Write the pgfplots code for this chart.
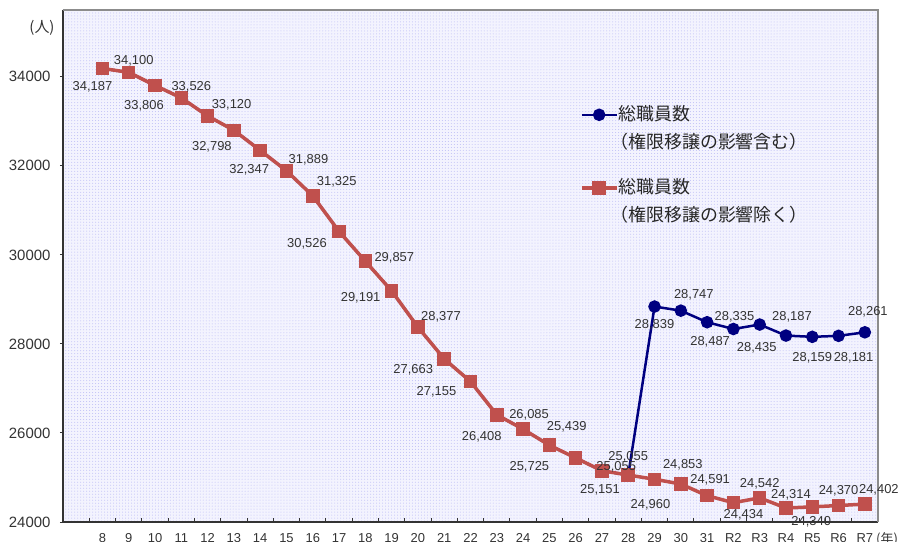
\documentclass[border=0pt]{standalone}
\usepackage{pgfplots}
\pgfplotsset{compat=1.18}
\usepackage{pgfplotstable}
\usetikzlibrary{patterns}
\usepackage{fontspec}
\setmainfont{Liberation Sans}
\newfontfamily\cjk{Noto Sans CJK JP}
\definecolor{navy}{RGB}{0,0,128}
\definecolor{brick}{RGB}{192,80,77}
\definecolor{txt}{RGB}{51,51,51}
\definecolor{bgfill}{RGB}{243,243,254}
\definecolor{bgdot}{RGB}{190,190,246}

% x = index (0 -> 8, ..., 23 -> 31, 24 -> R2, ..., 29 -> R7)
% dx, dy = label offset in bp, s = label shown
\pgfplotstableread{
x y dx dy s
0 34187 -10 -18 1
1 34100 5 12 1
2 33806 -11 -20 1
3 33526 10 11 1
4 33120 24 11 1
5 32798 -22 -17 1
6 32347 -11 -19 1
7 31889 22 11 1
8 31325 24 14 1
9 30526 -32 -12 1
10 29857 29 3 1
11 29191 -31 -7 1
12 28377 23 10 1
13 27663 -31 -11 1
14 27155 -34 -10 1
15 26408 -15 -22 1
16 26085 6 14 1
17 25725 -20 -22 1
18 25439 -9 31 1
19 25151 -2 -19 1
20 25055 -12 8 1
21 24960 -4 -26 1
22 24853 2 19 1
23 24591 3 16 1
24 24434 10 -12 1
25 24542 0 14 1
26 24314 5 13 1
27 24340 -1 -15 1
28 24370 0 15 1
29 24402 14 14 1
}\excl

\pgfplotstableread{
x y dx dy s
0 34187 0 0 0
1 34100 0 0 0
2 33806 0 0 0
3 33526 0 0 0
4 33120 0 0 0
5 32798 0 0 0
6 32347 0 0 0
7 31889 0 0 0
8 31325 0 0 0
9 30526 0 0 0
10 29857 0 0 0
11 29191 0 0 0
12 28377 0 0 0
13 27663 0 0 0
14 27155 0 0 0
15 26408 0 0 0
16 26085 0 0 0
17 25725 0 0 0
18 25439 0 0 0
19 25151 0 0 0
20 25055 0 18 1
21 28839 0 -18 1
22 28747 13 16 1
23 28487 3 -20 1
24 28335 1 12 1
25 28435 -3 -23 1
26 28187 6 19 1
27 28159 0 -21 1
28 28181 15 -22 1
29 28261 3 20 1
}\incl

\begin{document}
\begin{tikzpicture}
\useasboundingbox (-63bp,-20bp) rectangle (841bp,522bp);
\begin{axis}[
  at={(0,0)}, anchor=south west,
  scale only axis, width=815bp, height=512bp,
  xmin=-1.5, xmax=29.5, ymin=24000, ymax=35500,
  clip=false,
  axis x line*=bottom, axis y line*=left,
  axis line style={-, draw=txt, line width=1.5bp},
  axis background/.style={preaction={fill=bgfill}, pattern=dots, pattern color=bgdot},
  xtick={0,...,29},
  xticklabels={8,9,10,11,12,13,14,15,16,17,18,19,20,21,22,23,24,25,26,27,28,29,30,31,R2,R3,R4,R5,R6,R7},
  major x tick style={draw=none},
  minor xtick={-0.5,0.5,...,29.5},
  minor x tick style={draw=txt, line width=1bp},
  minor tick length=4bp,
  xtick align=inside,
  xticklabel style={font=\fontsize{13}{15}\selectfont, text=txt, yshift=-8bp},
  ytick={24000,26000,...,34000},
  ytick align=outside, major tick length=3bp,
  y tick style={draw=txt, line width=1bp},
  scaled y ticks=false,
  yticklabel style={font=\fontsize{15}{17}\selectfont, text=txt, xshift=-6bp},
  /pgf/number format/1000 sep={},
  /pgf/number format/assume math mode=true,
  nodes near coords={\pgfmathprintnumber[1000 sep={,}]{\pgfplotspointmeta}},
  visualization depends on={\thisrow{dx}\as\dx},
  visualization depends on={\thisrow{dy}\as\dy},
  visualization depends on={\thisrow{s}\as\shw},
  every node near coord/.append style={font=\fontsize{13}{15}\selectfont, text=txt,
    anchor=center, xshift=\dx bp, yshift=\dy bp, text opacity=\shw},
  legend style={at={(axis description cs:0.634,0.823)}, anchor=north west,
    draw=none, fill=none, inner sep=0pt, row sep=0pt,
    nodes={inner sep=0pt, text height=20bp, text depth=8bp},
    font=\cjk\fontsize{18}{28}\selectfont, text=black!85,
    cells={anchor=base west},
    /tikz/every even column/.append style={column sep=5bp}},
  legend image code/.code={\draw[mark repeat=2,mark phase=2,#1]
    plot coordinates {(0bp,6bp)(17.5bp,6bp)(35bp,6bp)};},
]
\addplot[navy, line width=2.5bp, mark=*, mark size=5bp, mark options={solid}]
  table[x=x, y=y] {\incl};
\addlegendentry{総職員数}
\addlegendimage{empty legend}
\addlegendentry[text depth=25bp]{\hspace*{-8bp}（権限移譲の影響含む）}
\addplot[brick, line width=3.5bp, mark=square*, mark size=5bp, mark options={solid}]
  table[x=x, y=y] {\excl};
\addlegendentry{総職員数}
\addlegendimage{empty legend}
\addlegendentry{\hspace*{-8bp}（権限移譲の影響除く）}
\draw[black!45, line width=2.5bp] (rel axis cs:0,1) -- (rel axis cs:1,1) -- (rel axis cs:1,0);
\node[text=txt, font=\cjk\fontsize{15}{17}\selectfont] at (rel axis cs:0,1) [xshift=-21bp, yshift=-18bp] {(人)};
\node[text=txt, font=\cjk\fontsize{13}{15}\selectfont, anchor=west, inner sep=0pt] at (rel axis cs:1,0) [xshift=-2bp, yshift=-17bp] {(年)};
\end{axis}
\end{tikzpicture}
\end{document}
